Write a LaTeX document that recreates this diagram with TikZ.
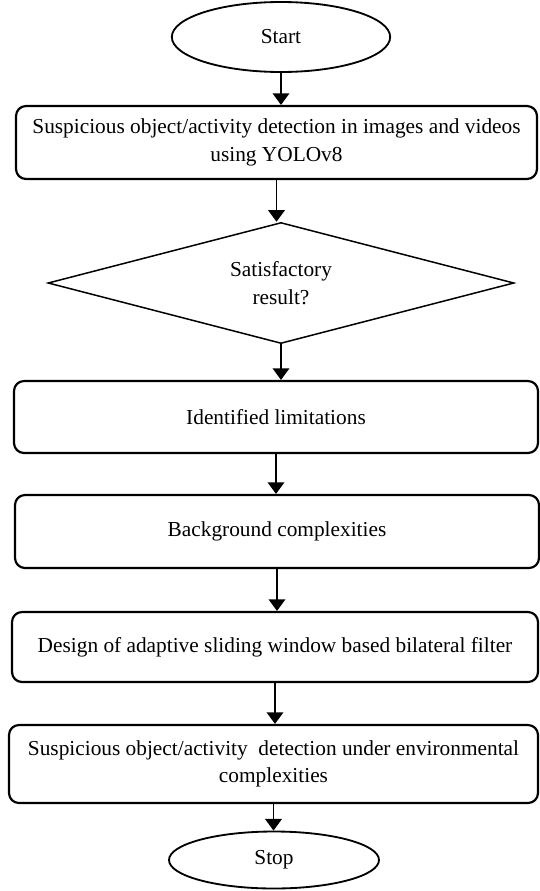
\documentclass[tikz,border=0pt]{standalone}
\usepackage{fontspec}
\setmainfont{Liberation Serif}
\usetikzlibrary{shapes.geometric,arrows.meta}
\begin{document}
\begin{tikzpicture}[
    x=0.6pt, y=-0.6pt,
    font=\fontsize{12.8}{16.5}\selectfont,
    terminal/.style = { draw, ellipse, line width=1.1pt, inner sep=0pt },
    process/.style = { draw, rectangle, rounded corners=6pt, line width=1.3pt, align=center, inner sep=0pt },
    decision/.style = { draw, diamond, aspect=3.85, line width=0.9pt, align=center, inner sep=0pt },
    flow/.style = { line width=1pt, -{Triangle[width=10pt,length=7pt]} }
    ]
\useasboundingbox (0,0) rectangle (540,891);
\node[terminal, minimum width=131pt, minimum height=42pt] (Start) at (281,37) {Start};
\node[process, minimum width=312.6pt, minimum height=43.8pt] (Detect) at (276.5,142.5)
    {Suspicious object/activity detection in images and videos\\using YOLOv8};
\node[decision, minimum width=279.6pt, minimum height=72.6pt] (Check) at (281,283)
    {Satisfactory\\result?};
\node[process, minimum width=314.4pt, minimum height=43.2pt] (Limits) at (276,417) {Identified limitations};
\node[process, minimum width=314.4pt, minimum height=43.8pt] (Backgr) at (277,531.5) {Background complexities};
\node[process, minimum width=315.6pt, minimum height=42pt] (Filter) at (275,647)
    {Design of adaptive sliding window based bilateral filter};
\node[process, minimum width=317.4pt, minimum height=46.8pt] (Envir) at (273.5,764)
    {Suspicious object/activity~ detection under environmental\\complexities};
\node[terminal, minimum width=126pt, minimum height=34.2pt] (Stop) at (274,860) {Stop};
%
\foreach \Source/\Target in {%
        Start/Detect,
        Detect/Check,
        Check/Limits,
        Limits/Backgr,
        Backgr/Filter,
        Filter/Envir,
        Envir/Stop%
    }
\draw[flow] (\Source.south) to (\Source.south |- \Target.north);
\end{tikzpicture}
\end{document}
